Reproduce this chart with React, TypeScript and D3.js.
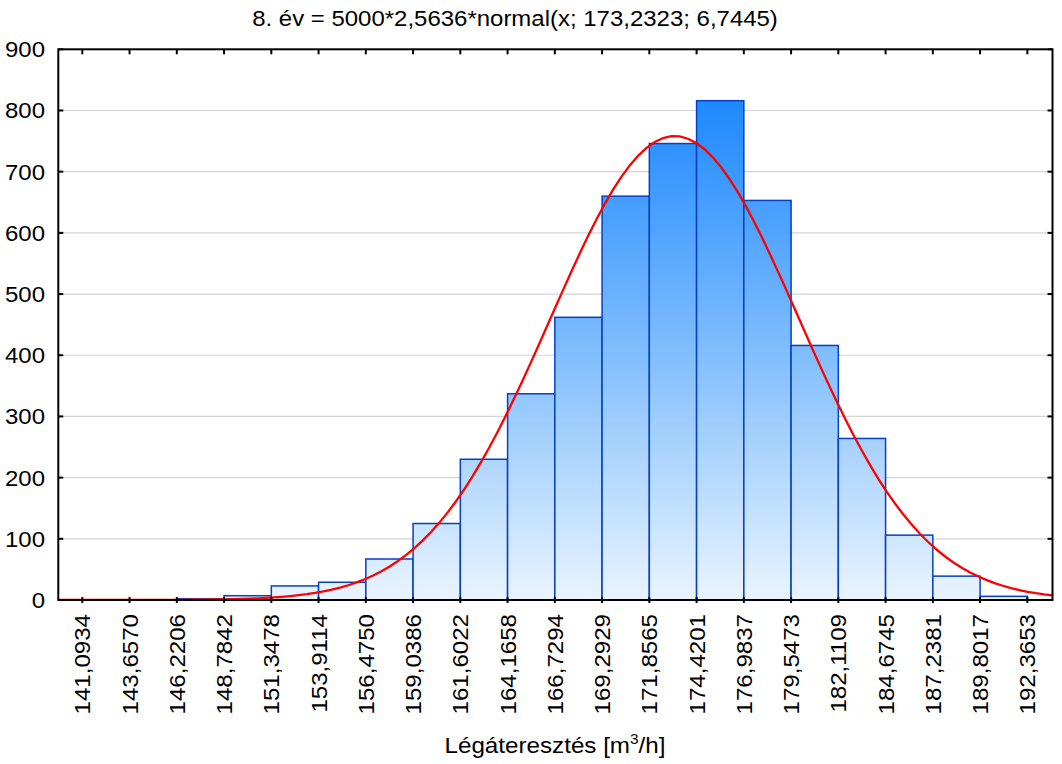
import React from 'react';
import * as d3 from 'd3';

// Bin edge labels (as printed) and values
const edgeLabels = [
  '141,0934', '143,6570', '146,2206', '148,7842', '151,3478', '153,9114', '156,4750',
  '159,0386', '161,6022', '164,1658', '166,7294', '169,2929', '171,8565', '174,4201',
  '176,9837', '179,5473', '182,1109', '184,6745', '187,2381', '189,8017', '192,3653',
];
const edgeValues = [
  141.0934, 143.657, 146.2206, 148.7842, 151.3478, 153.9114, 156.475,
  159.0386, 161.6022, 164.1658, 166.7294, 169.2929, 171.8565, 174.4201,
  176.9837, 179.5473, 182.1109, 184.6745, 187.2381, 189.8017, 192.3653,
];
// Frequencies for each bin (between consecutive edges)
const counts = [0, 0, 2, 7, 23, 29, 67, 125, 230, 337, 462, 660, 746, 816, 653, 416, 264, 106, 39, 6];
const yTicks = [0, 100, 200, 300, 400, 500, 600, 700, 800, 900];

// Fitted normal curve parameters (from the title)
const fitN = 5000;
const fitBinWidth = 2.5636;
const fitMean = 173.2323;
const fitSd = 6.7445;

const titleText = '8. év = 5000*2,5636*normal(x; 173,2323; 6,7445)';
const xAxisTitle = 'Légáteresztés [m';

const W = 1062;
const H = 764;
const plot = { left: 58.3, right: 1052.5, top: 49.3, bottom: 600 };
const xDomain: [number, number] = [139.791, 193.73];
const FONT = 'Arial, "Liberation Sans", sans-serif';
const SX = 1.09; // horizontal glyph stretch

export default function App() {
  const x = d3.scaleLinear().domain(xDomain).range([plot.left, plot.right]);
  const y = d3.scaleLinear().domain([0, 900]).range([plot.bottom, plot.top]);

  const normal = (v: number) =>
    (fitN * fitBinWidth) / (fitSd * Math.sqrt(2 * Math.PI)) *
    Math.exp(-0.5 * ((v - fitMean) / fitSd) ** 2);
  const curveX = d3.range(xDomain[0], xDomain[1] + 0.0001, (xDomain[1] - xDomain[0]) / 120);
  const line = d3
    .line<number>()
    .x((d) => x(d))
    .y((d) => y(normal(d)));

  return (
    <svg
      width={W}
      height={H}
      style={{ position: 'absolute', left: 0, top: 0, background: '#fff' }}
      fontFamily={FONT}
    >
      <defs>
        <linearGradient id="barGrad" gradientUnits="userSpaceOnUse" x1="0" y1={plot.top + 40} x2="0" y2={plot.bottom}>
          <stop offset="0" stopColor="#1a86ff" />
          <stop offset="0.5" stopColor="#7dbcfd" />
          <stop offset="1" stopColor="#eaf4ff" />
        </linearGradient>
        <clipPath id="plotClip">
          <rect x={plot.left} y={plot.top} width={plot.right - plot.left} height={plot.bottom - plot.top} />
        </clipPath>
      </defs>

      <text transform={`translate(515,26) scale(${SX},1)`} textAnchor="middle" fontSize={22} fill="#000">
        {titleText}
      </text>

      {/* grid lines */}
      {yTicks.filter((t) => t > 0 && t < 900).map((t) => (
        <line key={'g' + t} x1={plot.left} x2={plot.right} y1={y(t)} y2={y(t)} stroke="#d4d4d4" strokeWidth={1.2} />
      ))}

      {/* bars */}
      {counts.map((c, i) =>
        c > 0 ? (
          <rect
            key={'b' + i}
            x={x(edgeValues[i])}
            y={y(c)}
            width={x(edgeValues[i + 1]) - x(edgeValues[i])}
            height={y(0) - y(c)}
            fill="url(#barGrad)"
            stroke="#0640c4"
            strokeWidth={1.5}
          />
        ) : null
      )}

      {/* fitted curve */}
      <path d={line(curveX) || ''} fill="none" stroke="#ff0000" strokeWidth={2.3} clipPath="url(#plotClip)" />

      {/* frame */}
      <rect
        x={plot.left}
        y={plot.top}
        width={plot.right - plot.left}
        height={plot.bottom - plot.top}
        fill="none"
        stroke="#000"
        strokeWidth={2}
      />

      {/* y ticks and labels */}
      {yTicks.map((t) => (
        <g key={'y' + t}>
          <line x1={plot.left} x2={plot.left + 5} y1={y(t)} y2={y(t)} stroke="#000" strokeWidth={2} />
          <line x1={plot.right - 5} x2={plot.right} y1={y(t)} y2={y(t)} stroke="#000" strokeWidth={2} />
          <text
            transform={`translate(45,${y(t)}) scale(${SX},1)`}
            dy="0.36em"
            textAnchor="end"
            fontSize={22}
            fill="#000"
          >
            {t}
          </text>
        </g>
      ))}

      {/* x ticks and labels */}
      {edgeValues.map((v, i) => (
        <g key={'x' + i}>
          <line x1={x(v)} x2={x(v)} y1={plot.top} y2={plot.top + 5} stroke="#000" strokeWidth={2} />
          <line x1={x(v)} x2={x(v)} y1={plot.bottom - 3} y2={plot.bottom + 3} stroke="#000" strokeWidth={2} />
          <text
            transform={`translate(${x(v)},${614}) rotate(-90) scale(1.07,1)`}
            dy="0.36em"
            textAnchor="end"
            fontSize={22.5}
            fill="#000"
          >
            {edgeLabels[i]}
          </text>
        </g>
      ))}

      <text transform={`translate(555,753) scale(1.1,1)`} textAnchor="middle" fontSize={22} fill="#000">
        {xAxisTitle}
        <tspan fontSize={14} dy={-9}>3</tspan>
        <tspan dy={9}>/h]</tspan>
      </text>
    </svg>
  );
}
